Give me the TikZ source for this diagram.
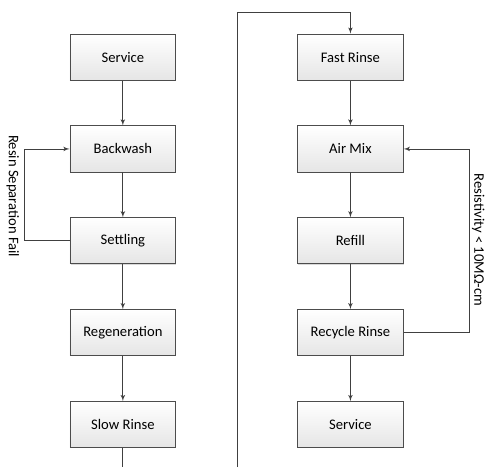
\documentclass[tikz,border=0pt]{standalone}
\usepackage{fontspec}
\setmainfont{Carlito}
\usepackage{tikz}
\usetikzlibrary{arrows,shadows}

\begin{document}
\begin{tikzpicture}
        \tikzset{stage/.style = {shape=rectangle,draw=black!70,line width=0.6pt,top color=white,bottom color=black!10,minimum width=2.8cm,minimum height=1.22cm,font=\fontsize{11}{13}\selectfont,drop shadow={opacity=0.3,shadow xshift=0.5pt,shadow yshift=-0.5pt}}};
        \tikzset{edge/.style = {->,> = latex',draw=black!75,line width=0.6pt}};
        \tikzset{note/.style = {rotate=-90,font=\fontsize{11}{13}\selectfont}};
        \useasboundingbox (0,0) rectangle (12.83,12.36);
        \node[stage] (svc1) at (3.25,10.85) {Service};
        \node[stage] (back) at (3.25,8.42) {Backwash};
        \node[stage] (settle) at (3.25,5.99) {Settling};
        \node[stage] (regen) at (3.25,3.56) {Regeneration};
        \node[stage] (slow) at (3.25,1.13) {Slow Rinse};
        \node[stage] (fast) at (9.27,10.85) {Fast Rinse};
        \node[stage] (airmix) at (9.27,8.42) {Air Mix};
        \node[stage] (refill) at (9.27,5.99) {Refill};
        \node[stage] (recyc) at (9.27,3.56) {Recycle Rinse};
        \node[stage] (svc2) at (9.27,1.13) {Service};
        \coordinate (lret) at (0.635,5.99);
        \coordinate (rret) at (12.43,3.56);
        \coordinate (lend) at (3.25,0);
        \coordinate (mbot) at (6.27,0);
        \coordinate (mtop) at (6.27,12.04);
        \node[note] (lfail) at (0.34,7.17) {Resin Separation Fail};
        \node[note] (rfail) at (12.65,6.01) {Resistivity < 10MΩ-cm};
        \draw[edge] (svc1)  to (back);
        \draw[edge] (back)  to (settle);
        \draw[edge] (settle)  to (regen);
        \draw[edge] (regen)  to (slow);
        \draw[edge,-] (slow)  to (lend);
        \draw[edge] (mbot) -- (mtop) -| (fast);
        \draw[edge] (fast)  to (airmix);
        \draw[edge] (airmix)  to (refill);
        \draw[edge] (refill)  to (recyc);
        \draw[edge] (recyc)  to (svc2);
        \draw[edge] (settle.west) -- (lret) |- (back.west);
        \draw[edge] (recyc.east) -- (rret) |- (airmix.east);
    \end{tikzpicture}
\end{document}
